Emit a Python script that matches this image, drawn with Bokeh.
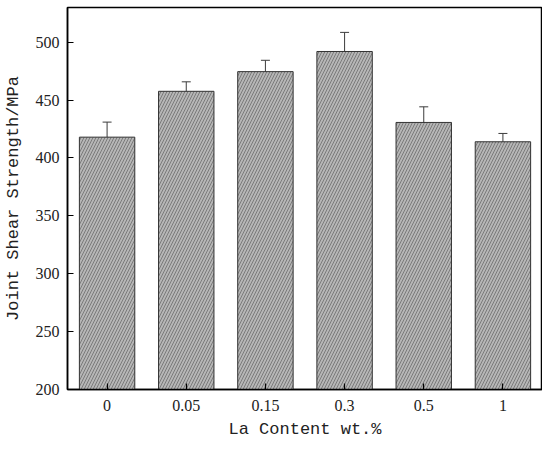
from bokeh.plotting import figure
from bokeh.models import ColumnDataSource, FixedTicker, Whisker, TeeHead, Range1d, FactorRange
from bokeh.embed import file_html
from bokeh.resources import INLINE

categories = ["0", "0.05", "0.15", "0.3", "0.5", "1"]
strength = [418, 457.6, 474.6, 492, 430.7, 414]
err = [13, 8.2, 9.8, 16.5, 13.5, 7.2]
y_ticks = [200, 250, 300, 350, 400, 450, 500]

upper = [v + e for v, e in zip(strength, err)]
lower = [v - e for v, e in zip(strength, err)]
src = ColumnDataSource(dict(x=categories, top=strength, upper=upper, lower=lower))

p = figure(width=542, height=441, x_range=FactorRange(*categories, range_padding=0),
           y_range=Range1d(200, 530), output_backend="svg", toolbar_location=None,
           min_border_left=65, min_border_right=0, min_border_top=7, min_border_bottom=48)

p.vbar(x="x", top="top", bottom=200, width=0.7, source=src,
       fill_color="#b6b6b6", line_color="#333333", line_width=1,
       hatch_pattern="/", hatch_color="#7a7a7a", hatch_scale=6, hatch_weight=1.0)

w = Whisker(base="x", upper="upper", lower="lower", source=src,
            line_color="#3c3c3c", line_width=1,
            upper_head=TeeHead(size=9, line_color="#3c3c3c", line_width=1),
            lower_head=TeeHead(size=9, line_color="#3c3c3c", line_width=1))
p.add_layout(w)

p.grid.visible = False
p.outline_line_color = "black"
p.outline_line_width = 1.5

for ax in (p.xaxis[0], p.yaxis[0]):
    ax.axis_line_color = "black"
    ax.axis_line_width = 1.5
    ax.major_tick_in = 6
    ax.major_tick_out = 0
    ax.minor_tick_in = 0
    ax.minor_tick_out = 0
    ax.major_tick_line_color = "black"
    ax.major_tick_line_width = 1.2
    ax.major_label_text_font = "Liberation Serif"
    ax.major_label_text_font_size = "16px"
    ax.major_label_text_color = "#222222"
    ax.axis_label_text_font = "Liberation Mono"
    ax.axis_label_text_font_size = "17px"
    ax.axis_label_text_font_style = "normal"
    ax.axis_label_text_color = "#222222"

p.yaxis.ticker = FixedTicker(ticks=y_ticks)
p.yaxis.major_label_standoff = 8
p.xaxis.major_label_standoff = 10
p.xaxis.axis_label = "La Content wt.%"
p.yaxis.axis_label = "Joint Shear Strength/MPa"
p.xaxis.axis_label_standoff = 6
p.yaxis.axis_label_standoff = 10

open("out.html", "w").write(file_html(p, INLINE))
